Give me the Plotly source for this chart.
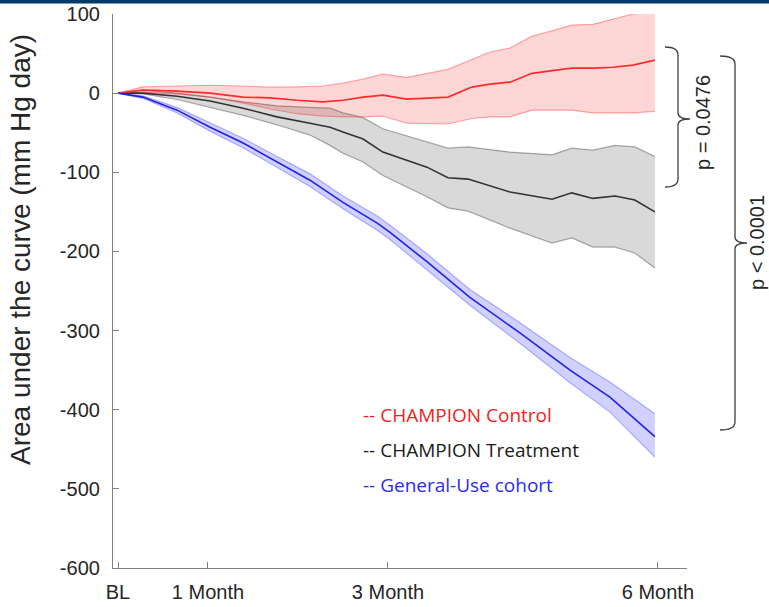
import plotly.graph_objects as go

# ---------------- data (days since baseline, mm Hg day) ----------------
red_days = [0, 8.3, 19.7, 30.7, 41.7, 50.7, 59.7, 68.3, 75, 81.7, 88.3, 96.3, 110, 118, 124, 130.7, 138, 144, 151.3, 158.3, 165, 171.7, 179]
red_mean = [0, 4, 2.5, 0, -5, -6, -9, -11, -9, -5, -2.5, -7.6, -5, 7.6, 11.4, 13.9, 25, 27.8, 31.6, 31.6, 32.8, 35.4, 41.7]
red_upper = [0, 8, 9, 10, 9, 7.6, 8, 9, 12.6, 17.7, 24, 20, 30, 43, 52, 57, 72, 78, 86, 87, 93.5, 100, 104]
red_lower = [0, 1, -1, -5, -12.6, -20, -26, -29, -30, -30, -29, -38, -39, -32, -30, -30, -21.5, -21.5, -21.5, -25, -25, -25, -23]

blk_days = [0, 8.3, 19.7, 30.7, 41.7, 53, 64, 70.7, 75, 81.7, 88.3, 103, 110, 116.7, 130.7, 144.7, 151.3, 158.3, 165.7, 172.3, 179]
blk_mean = [0, 0, -4, -10, -19, -30, -38, -43, -49, -58, -74.5, -93.5, -107, -108.6, -125, -134, -126, -133, -130, -135, -150]
blk_upper = [0, 4, 0, -5, -11, -16, -18, -19, -25, -31, -45, -62, -69.5, -68, -74.5, -78, -69.5, -72, -66, -68, -80]
blk_lower = [0, -1, -8, -18, -28, -40, -53, -66, -76, -87, -104, -131, -145, -149, -170.5, -189.5, -183, -194.5, -194.5, -202, -221]

blu_days = [0, 8.3, 19.7, 30.7, 41.7, 53, 64, 75, 86.3, 90.7, 103, 117.3, 134, 150.7, 164, 179]
blu_mean = [0, -5, -21.5, -43, -63, -87, -110, -138, -164, -176, -213, -258, -303, -350, -384, -434]
blu_upper = [0, -3.5, -18, -38, -57, -80, -102, -130, -155, -167, -203, -248, -290, -334, -365, -405]
blu_lower = [0, -6.5, -25, -48, -69, -94, -118, -146, -173, -185, -223, -268, -316, -366, -403, -460]

tick_vals = [0, 30, 90, 180]
tick_text = ["BL", "1 Month", "3 Month", "6 Month"]
y_ticks = [100, 0, -100, -200, -300, -400, -500, -600]
y_tick_text = ["100", "0", "-100", "-200", "-300", "-400", "-500", "-600"]

legend_labels = ["-- CHAMPION Control", "-- CHAMPION Treatment", "-- General-Use cohort"]
legend_colors = ["#f01e23", "#1a1a1a", "#2b2bf0"]
p_labels = ["p = 0.0476", "p < 0.0001"]

# ---------------- layout geometry (pixels) ----------------
W, H = 769, 607
L, R, T, B = 113, 687, 14, 568


def px(x):
    return (x - L) / (R - L)


def py(y):
    return (B - y) / (B - T)


fig = go.Figure()


def band(days, upper, lower, fill, edge):
    fig.add_trace(go.Scatter(x=list(days) + list(days)[::-1], y=list(upper) + list(lower)[::-1],
                             fill="toself", fillcolor=fill, line=dict(width=0), mode="lines",
                             hoverinfo="skip", showlegend=False))
    for arr in (upper, lower):
        fig.add_trace(go.Scatter(x=days, y=arr, mode="lines", line=dict(color=edge, width=1.2),
                                 hoverinfo="skip", showlegend=False))


band(blk_days, blk_upper, blk_lower, "rgba(0,0,0,0.15)", "rgba(0,0,0,0.32)")
band(red_days, red_upper, red_lower, "rgba(255,0,0,0.16)", "rgba(255,0,0,0.32)")
band(blu_days, blu_upper, blu_lower, "rgba(0,0,255,0.18)", "rgba(0,0,255,0.28)")

fig.add_trace(go.Scatter(x=blk_days, y=blk_mean, mode="lines", line=dict(color="#333333", width=1.6), showlegend=False))
fig.add_trace(go.Scatter(x=red_days, y=red_mean, mode="lines", line=dict(color="#ff2a2a", width=1.6), showlegend=False))
fig.add_trace(go.Scatter(x=blu_days, y=blu_mean, mode="lines", line=dict(color="#2020e8", width=1.6), showlegend=False))

axis_font = dict(family="Liberation Sans, Arial", size=20, color="#262626")

fig.update_layout(
    width=W, height=H,
    margin=dict(l=L, r=W - R, t=T, b=H - B, autoexpand=False),
    paper_bgcolor="white", plot_bgcolor="white",
    showlegend=False,
    xaxis=dict(range=[-1.67, 189.7], tickvals=tick_vals, ticktext=tick_text, ticks="inside",
               ticklen=6, tickcolor="#808080", showline=True, linecolor="#808080", linewidth=1.2,
               showgrid=False, zeroline=False, tickfont=axis_font, ticklabelstandoff=6, automargin=False),
    yaxis=dict(range=[-600, 100], tickvals=y_ticks, ticktext=y_tick_text, ticks="inside", ticklen=6,
               tickcolor="#808080", showline=True, linecolor="#808080", linewidth=1.2, showgrid=False,
               zeroline=False, tickfont=axis_font, ticklabelstandoff=8, automargin=False),
)

annotations = []
# y axis title
annotations.append(dict(text="Area under the curve (mm Hg day)", x=px(21), y=py(250), xref="paper", yref="paper",
                        textangle=-90, showarrow=False, font=dict(family="Liberation Sans, Arial", size=28, color="#262626"),
                        xanchor="center", yanchor="middle"))
# legend texts
for i, (lab, col) in enumerate(zip(legend_labels, legend_colors)):
    annotations.append(dict(text=lab, x=px(361), y=py(415 + 35 * i), xref="paper", yref="paper",
                            showarrow=False, xanchor="left", yanchor="middle",
                            font=dict(family="Open Sans", size=19, color=col)))
# p-value labels
annotations.append(dict(text=p_labels[0], x=px(703), y=py(123), xref="paper", yref="paper", textangle=-90,
                        showarrow=False, xanchor="center", yanchor="middle",
                        font=dict(family="Liberation Sans, Arial", size=20, color="#262626")))
annotations.append(dict(text=p_labels[1], x=px(757), y=py(243), xref="paper", yref="paper", textangle=-90,
                        showarrow=False, xanchor="center", yanchor="middle",
                        font=dict(family="Liberation Sans, Arial", size=20, color="#262626")))
fig.update_layout(annotations=annotations)


def brace(xl, xm, xt, top, mid, bot):
    pts = [
        f"M {px(xl)},{py(top)}",
        f"Q {px(xm)},{py(top)} {px(xm)},{py(top + 8)}",
        f"L {px(xm)},{py(mid - 6)}",
        f"Q {px(xm)},{py(mid)} {px(xt)},{py(mid)}",
        f"Q {px(xm)},{py(mid)} {px(xm)},{py(mid + 6)}",
        f"L {px(xm)},{py(bot - 8)}",
        f"Q {px(xm)},{py(bot)} {px(xl)},{py(bot)}",
    ]
    return dict(type="path", path=" ".join(pts), xref="paper", yref="paper",
                line=dict(color="#404040", width=1.3))


shapes = [
    brace(665, 678, 690, 47, 119, 187),
    brace(720, 735, 747, 56, 243, 430),
    dict(type="rect", xref="paper", yref="paper", x0=px(0), x1=px(W), y0=py(3.5), y1=py(0),
         fillcolor="#003a6b", line=dict(width=0)),
]
fig.update_layout(shapes=shapes)

fig.write_html("out.html")
